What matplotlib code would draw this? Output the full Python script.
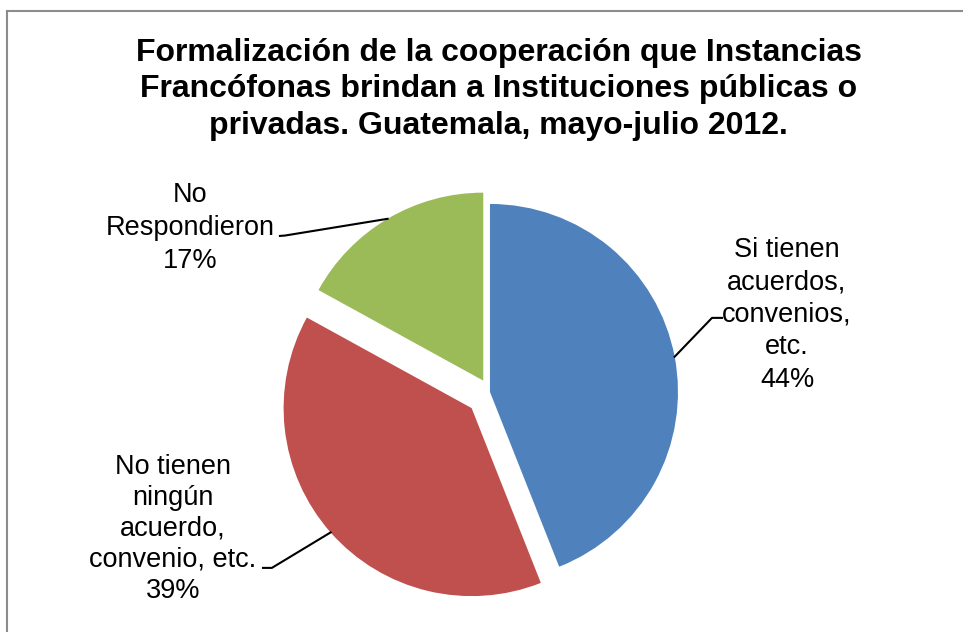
import numpy as np
import matplotlib.pyplot as plt
from matplotlib.lines import Line2D

plt.rcParams['font.family'] = ['Liberation Sans', 'DejaVu Sans']

labels = ["Si tienen\nacuerdos,\nconvenios,\netc.", "No tienen\nningún\nacuerdo,\nconvenio, etc.", "No\nRespondieron"]
values = [44, 39, 17]
colors = ["#4F81BD", "#C0504D", "#9BBB59"]
explode = [0, 0.13, 0.07]

title = ("Formalización de la cooperación que Instancias\n"
         "Francófonas brindan a Instituciones públicas o\n"
         "privadas. Guatemala, mayo-julio 2012.")

fig = plt.figure(figsize=(9.63, 6.32), dpi=100)
ax = fig.add_axes([0, 0, 1, 1])

wedges, _ = ax.pie(values, colors=colors, startangle=90, counterclock=False,
                   explode=explode, radius=1)
ax.set_aspect('auto')
ax.set_xlim(-2.606, 2.516)
ax.set_ylim(-1.277, 2.085)
ax.axis('off')

# label centres and leader elbows/ends (data units, pie radius = 1)
label_pos = [(1.58, 0.41), (-1.686, -0.729), (-1.596, 0.872)]
label_ls = [1.33, 1.25, 1.33]
elbows = [[(1.234, 0.394), (1.181, 0.394)],
          [(-1.207, -0.936), (-1.160, -0.936)],
          [(-1.117, 0.830), (-1.090, 0.832)]]

for w, lab, v, pos, ls, elb in zip(wedges, labels, values, label_pos, label_ls, elbows):
    ax.text(pos[0], pos[1], f"{lab}\n{v}%", ha='center', va='center',
            fontsize=19.5, linespacing=ls, color='black')
    mid = np.deg2rad((w.theta1 + w.theta2) / 2)
    cx, cy = w.center
    end = (cx + w.r * np.cos(mid), cy + w.r * np.sin(mid))
    xs = [elb[0][0], elb[1][0], end[0]]
    ys = [elb[0][1], elb[1][1], end[1]]
    ax.add_line(Line2D(xs, ys, color='black', lw=1.5))

fig.text(0.518, 0.859, title, ha='center', va='center', fontsize=23,
         fontweight='bold', linespacing=1.28)

# chart frame (only top and left edges visible)
fig.add_artist(Line2D([7 / 963, 1], [1 - 11 / 632, 1 - 11 / 632],
                      transform=fig.transFigure, color='#8c8c8c', lw=1.5))
fig.add_artist(Line2D([7 / 963, 7 / 963], [0, 1 - 11 / 632],
                      transform=fig.transFigure, color='#8c8c8c', lw=1.5))

fig.savefig("out.png", dpi=100)
